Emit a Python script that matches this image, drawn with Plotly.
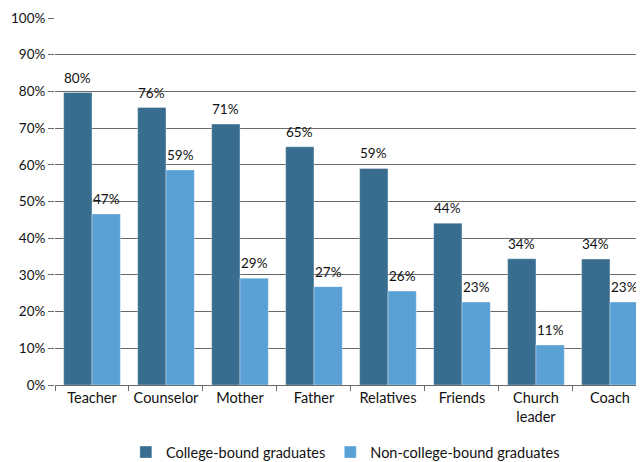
import plotly.graph_objects as go

categories = ["Teacher", "Counselor", "Mother", "Father", "Relatives", "Friends", "Church<br>leader", "Coach"]
college_bound = [79.7, 75.6, 71.1, 64.9, 59.0, 44.1, 34.4, 34.3]
non_college_bound = [46.6, 58.6, 29.1, 26.8, 25.6, 22.6, 10.9, 22.6]
series_names = ["College-bound graduates", "Non-college-bound graduates"]
y_ticks = [0, 10, 20, 30, 40, 50, 60, 70, 80, 90, 100]

FONT = "Lato, 'Open Sans', sans-serif"
DARK = "#386D8F"
LIGHT = "#59A0D5"
GRID = "#6a6a6a"
TXT = "#111111"

# page has an 8px body margin, so the figure is drawn 8px in from top-left
W, H = 636, 454
ML, MR, MT, MB = 47, 0, 10, 77
BARGAP = 0.234
X_RANGE = [-0.5, 7.46]

fig = go.Figure()
series = [(series_names[0], college_bound, DARK), (series_names[1], non_college_bound, LIGHT)]
for name, vals, col in series:
    fig.add_trace(go.Bar(
        x=categories, y=vals, name=name,
        marker=dict(color=col, line=dict(color="rgba(255,255,255,0.6)", width=0.6)),
        hoverinfo="skip",
    ))

# value labels above each bar, positioned via axis coordinates
plot_w = W - ML - MR
cat_px = plot_w / (X_RANGE[1] - X_RANGE[0])
bar_px = cat_px * (1 - BARGAP) / 2
for i, (name, vals, col) in enumerate(series):
    shift = (i - 0.5) * bar_px
    for c, v in zip(categories, vals):
        fig.add_annotation(
            x=c, y=v, xref="x", yref="y", text=f"{v:.0f}%",
            showarrow=False, xshift=shift, yshift=5, yanchor="bottom",
            font=dict(family=FONT, size=13.5, color=TXT),
        )

fig.update_layout(
    width=W, height=H,
    margin=dict(l=ML, r=MR, t=MT, b=MB, autoexpand=False),
    paper_bgcolor="white", plot_bgcolor="white",
    barmode="group", bargap=BARGAP, bargroupgap=0,
    font=dict(family=FONT, size=13, color=TXT),
    showlegend=True,
    legend=dict(orientation="h", x=0.493, xanchor="center", y=-0.183, yanchor="middle",
                font=dict(family=FONT, size=14.5, color=TXT),
                traceorder="normal"),
)
fig.update_xaxes(
    type="category", range=X_RANGE, automargin=False, tickangle=0,
    showline=True, linecolor=GRID, linewidth=1,
    ticks="outside", tickson="boundaries", ticklen=5, tickcolor=GRID,
    showgrid=False, tickfont=dict(family=FONT, size=14.5, color=TXT),
)
fig.update_yaxes(
    range=[0, 100], tickvals=y_ticks, ticktext=[f"{v}%" for v in y_ticks],
    automargin=False,
    showgrid=True, gridcolor=GRID, gridwidth=1,
    ticks="outside", ticklen=6, tickcolor=GRID,
    showline=False, zeroline=False,
    tickfont=dict(family=FONT, size=13.5, color=TXT),
)

fig.write_html("out.html")
